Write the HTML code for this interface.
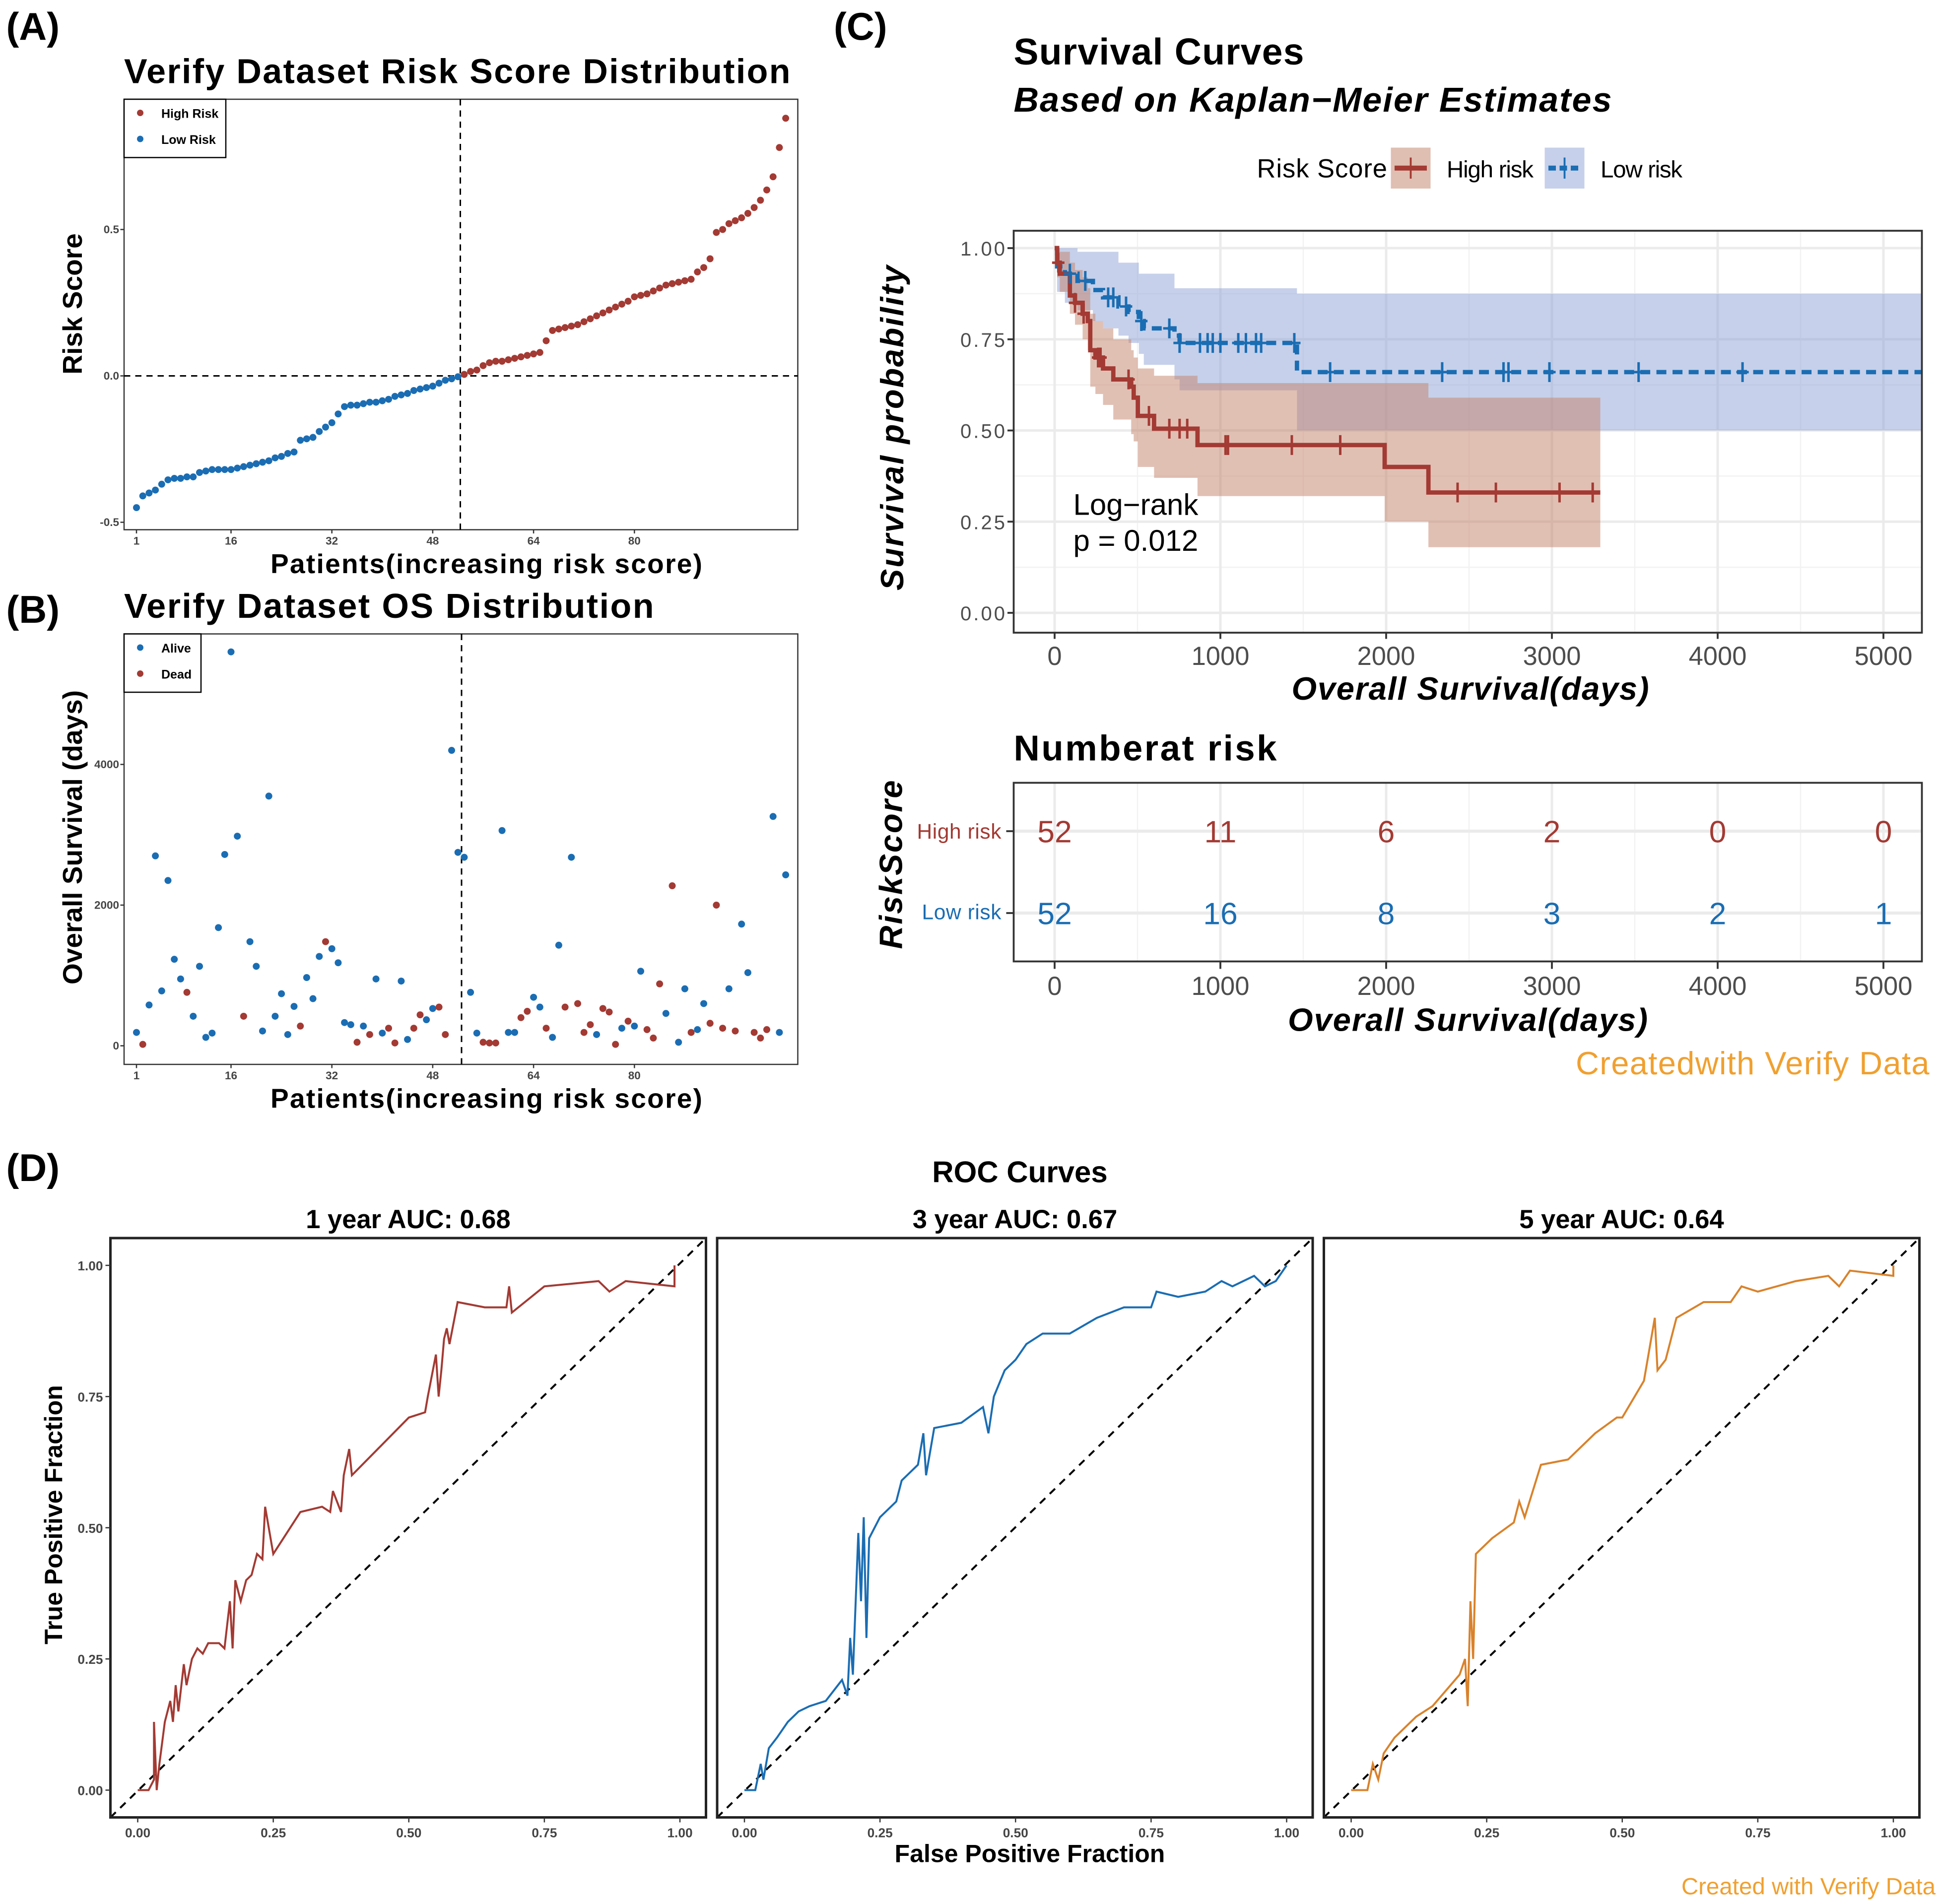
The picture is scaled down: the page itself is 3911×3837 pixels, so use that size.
<!DOCTYPE html>
<html><head><meta charset="utf-8"><style>html,body{margin:0;padding:0;background:#fff}svg{display:block}text{font-family:"Liberation Sans",sans-serif}</style></head>
<body>
<svg id="fig" xmlns="http://www.w3.org/2000/svg" width="3911" height="3837" viewBox="0 0 1564.4 1534.8">
<rect width="1564.4" height="1534.8" fill="#fff"/>
<g id="gA"></g>
<g id="gB"></g>
<g id="gC"></g>
<g id="gT"></g>
<g id="gD"></g>
</svg>
<script>
const riskScores=[-0.45,-0.41,-0.40,-0.39,-0.37,-0.355,-0.35,-0.35,-0.345,-0.345,-0.33,-0.325,-0.32,-0.32,-0.32,-0.32,-0.315,-0.31,-0.305,-0.30,-0.295,-0.29,-0.28,-0.275,-0.265,-0.26,-0.22,-0.215,-0.21,-0.19,-0.175,-0.16,-0.13,-0.105,-0.10,-0.10,-0.095,-0.09,-0.09,-0.085,-0.08,-0.07,-0.065,-0.06,-0.05,-0.045,-0.04,-0.035,-0.025,-0.015,-0.01,-0.003,
0.005,0.015,0.02,0.035,0.045,0.05,0.05,0.055,0.06,0.065,0.07,0.075,0.08,0.12,0.155,0.16,0.165,0.17,0.175,0.185,0.195,0.205,0.215,0.225,0.235,0.245,0.255,0.27,0.275,0.28,0.29,0.30,0.31,0.315,0.32,0.325,0.33,0.355,0.37,0.40,0.49,0.50,0.52,0.53,0.54,0.555,0.575,0.60,0.635,0.68,0.78,0.88];
const osDays=[190,20,580,2700,780,2350,1230,950,760,420,1130,120,180,1680,2720,5600,2980,420,1480,1130,210,3550,420,740,160,560,280,970,670,1270,1480,1380,1180,330,300,50,280,160,950,180,250,40,920,90,250,440,370,530,550,160,4200,2750,2680,760,180,50,40,40,3060,190,190,400,490,690,550,250,120,1430,550,2680,600,190,300,160,530,480,20,250,350,280,1060,230,110,880,460,2275,50,810,190,230,600,320,2000,250,810,210,1730,1040,190,110,230,3260,190,2430];
const osStatus=["A","D","A","A","A","A","A","A","D","A",
"A","A","A","A","A","A","A","D","A","A",
"A","A","A","A","A","A","D","A","A","A",
"D","A","A","A","A","D",
"A","D","A","A","D","D","A","A","D","D",
"A","A","D","D","A","A","A","A","A","D",
"D","D","A","A","A","D","D","A","A","D",
"A","A","D","A","D","D","D","A","D","D",
"D","A","D","A","A","D","D","D","A","D",
"A","A","D","A","A","D","D","D","A","D",
"A","A","D","D","D","A","A","A"];
const riskTicks=[1,16,32,48,64,80];
const rsTicks=[-0.5,0,0.5];
const osTicks=[0,2000,4000];
const hiTimes=[0,15,31,92,123,169,200,215,246,292,354,462,477,502,600,862,1991,2255];
const hiSurv=[1,0.96,0.93,0.87,0.85,0.82,0.80,0.72,0.70,0.67,0.64,0.62,0.59,0.54,0.505,0.46,0.40,0.33];
const hiUpper=[1,1,0.99,0.96,0.94,0.92,0.89,0.82,0.80,0.78,0.75,0.72,0.70,0.67,0.65,0.63,0.63,0.59];
const hiLower=[1,0.92,0.88,0.82,0.79,0.75,0.72,0.62,0.60,0.57,0.53,0.49,0.47,0.40,0.37,0.32,0.25,0.18];
const hiEnd=3292;
const hiCensor=[22,123,175,262,277,446,569,692,754,800,1031,1046,1431,1723,2431,2662,3046,3246];
const loTimes=[0,15,62,138,231,292,385,446,508,538,723,754,1462];
const loSurv=[1,0.95,0.93,0.91,0.885,0.865,0.84,0.825,0.80,0.78,0.76,0.74,0.66];
const loUpper=[1,1,1,0.99,0.99,0.99,0.96,0.96,0.93,0.93,0.89,0.89,0.875];
const loLower=[1,0.88,0.85,0.83,0.80,0.78,0.76,0.74,0.71,0.68,0.64,0.61,0.50];
const loEnd=5230;
const loCensor=[92,185,323,354,431,523,692,754,877,923,954,1000,1108,1154,1215,1246,1446,1662,2338,2708,2738,2985,3523,4150];
const kmXTicks=[0,1000,2000,3000,4000,5000];
const kmYTicks=[0,0.25,0.5,0.75,1];
const nriskHigh=[52,11,6,2,0,0];
const nriskLow=[52,16,8,3,2,1];
const rocTitles=["1 year AUC: 0.68","3 year AUC: 0.67","5 year AUC: 0.64"];
const roc1F=[0,0.02,0.03,0.03,0.035,0.04,0.05,0.06,0.065,0.07,0.075,0.085,0.09,0.1,0.11,0.12,0.13,0.15,0.16,0.17,0.175,0.18,0.19,0.2,0.21,0.22,0.23,0.235,0.25,0.3,0.34,0.355,0.36,0.375,0.38,0.39,0.395,0.5,0.53,0.535,0.55,0.555,0.56,0.565,0.57,0.575,0.59,0.64,0.68,0.685,0.69,0.75,0.85,0.87,0.9,0.99,0.99];
const roc1T=[0,0,0.02,0.13,0,0.05,0.13,0.17,0.13,0.2,0.15,0.24,0.2,0.25,0.27,0.26,0.28,0.28,0.27,0.36,0.27,0.4,0.36,0.4,0.41,0.45,0.44,0.54,0.45,0.53,0.54,0.53,0.57,0.53,0.6,0.65,0.6,0.71,0.72,0.75,0.83,0.75,0.8,0.86,0.88,0.85,0.93,0.92,0.92,0.96,0.91,0.96,0.97,0.95,0.97,0.96,1];
const roc2F=[0,0.02,0.03,0.035,0.045,0.06,0.08,0.1,0.12,0.15,0.18,0.19,0.195,0.2,0.21,0.215,0.22,0.225,0.23,0.25,0.28,0.29,0.3,0.32,0.33,0.335,0.35,0.4,0.44,0.45,0.46,0.48,0.5,0.52,0.55,0.6,0.65,0.7,0.75,0.76,0.8,0.85,0.88,0.9,0.94,0.96,0.98,1];
const roc2T=[0,0,0.05,0.02,0.08,0.1,0.13,0.15,0.16,0.17,0.21,0.18,0.29,0.22,0.49,0.36,0.52,0.29,0.48,0.52,0.55,0.59,0.6,0.62,0.68,0.6,0.69,0.7,0.73,0.68,0.75,0.8,0.82,0.85,0.87,0.87,0.9,0.92,0.92,0.95,0.94,0.95,0.97,0.96,0.98,0.96,0.97,1];
const roc3F=[0,0.03,0.04,0.05,0.06,0.08,0.1,0.12,0.15,0.2,0.21,0.215,0.22,0.225,0.23,0.26,0.3,0.31,0.32,0.35,0.4,0.45,0.49,0.5,0.54,0.56,0.565,0.58,0.6,0.65,0.7,0.72,0.75,0.82,0.88,0.9,0.92,1,1];
const roc3T=[0,0,0.05,0.02,0.07,0.1,0.12,0.14,0.16,0.22,0.25,0.16,0.36,0.25,0.45,0.48,0.51,0.55,0.52,0.62,0.63,0.68,0.71,0.71,0.78,0.9,0.8,0.82,0.9,0.93,0.93,0.96,0.95,0.97,0.98,0.96,0.99,0.98,1];

const NS="http://www.w3.org/2000/svg";
function el(tag,attrs,parent,txt){const e=document.createElementNS(NS,tag);for(const k in attrs)e.setAttribute(k,attrs[k]);if(txt!==undefined)e.textContent=txt;parent.appendChild(e);return e;}
const RED="#a33a33",BLUE="#1a6db3",ORANGE="#d9822b";
const fig=document.getElementById('fig');

[["(A)",5,32],["(B)",5,502],["(C)",672,32],["(D)",5,952]].forEach(l=>{const t=el('text',{x:l[1],y:l[2],'font-size':31,'font-weight':'bold'},fig,l[0]);

});

const px=p=>110+(p-1)*5.08;
function scatterFrame(g,top,bot,title,titleW,yl,ylY,ys,yticks,fmt){
  const b=el('rect',{x:100,y:top,width:543,height:bot-top,fill:'none',stroke:'#333','stroke-width':1},g);
  
  
  const t=el('text',{x:100,y:top-13,'font-size':28,'font-weight':'bold',textLength:titleW},g,title);
  
  
  const y=el('text',{transform:`translate(66,${ylY}) rotate(-90)`,'text-anchor':'middle','font-size':22,'font-weight':'bold'},g,yl);
  
  
  const x=el('text',{x:392,y:bot+35,'text-anchor':'middle','font-size':22,'font-weight':'bold',textLength:348},g,'Patients(increasing risk score)');
  
  
  riskTicks.forEach(v=>{el('line',{x1:px(v),x2:px(v),y1:bot,y2:bot+3,stroke:'#333'},g);
    const tl=el('text',{x:px(v),y:bot+12,'text-anchor':'middle','font-size':9,'font-weight':'bold',fill:'#444'},g,String(v));
    
    });
  yticks.forEach(v=>{el('line',{x1:97,x2:100,y1:ys(v),y2:ys(v),stroke:'#333'},g);
    const tl=el('text',{x:96,y:ys(v)+3,'text-anchor':'end','font-size':9,'font-weight':'bold',fill:'#444'},g,fmt(v));
    
    });
}
function legendBox(g,x,y,w,items){
  const r=el('rect',{x:x,y:y,width:w,height:47,fill:'#fff',stroke:'#000','stroke-width':1},g);
  
  
  items.forEach((it,i)=>{el('circle',{cx:x+13,cy:y+11+i*21,r:2.6,fill:it[1]},g);
    const t=el('text',{x:x+30,y:y+15+i*21,'font-size':10,'font-weight':'bold'},g,it[0]);
    
    });
}
(function(){
  const g=document.getElementById('gA');
  const ys=v=>303-v*236;
  scatterFrame(g,80,427,'Verify Dataset Risk Score Distribution',537,'Risk Score',245,ys,rsTicks,v=>v.toFixed(1));
  el('line',{x1:100,x2:643,y1:ys(0),y2:ys(0),stroke:'#000','stroke-dasharray':'5,4','stroke-width':1.2},g);
  el('line',{x1:371,x2:371,y1:80,y2:427,stroke:'#000','stroke-dasharray':'5,4','stroke-width':1.2},g);
  riskScores.forEach((v,i)=>{const c=el('circle',{cx:px(i+1),cy:ys(v),r:2.8,fill:i<52?BLUE:RED},g);
    
    });
  legendBox(g,100,80,82,[['High Risk',RED],['Low Risk',BLUE]]);
})();
(function(){
  const g=document.getElementById('gB');
  const ys=v=>843-v*0.0567;
  scatterFrame(g,511,858,'Verify Dataset OS Distribution',427,'Overall Survival (days)',675,ys,osTicks,v=>String(v));
  el('line',{x1:372,x2:372,y1:511,y2:858,stroke:'#000','stroke-dasharray':'5,4','stroke-width':1.2},g);
  const n=osDays.length;
  osDays.forEach((v,i)=>{const p=1+i*(103/(n-1));const c=el('circle',{cx:px(p),cy:ys(v),r:2.8,fill:osStatus[i]==='D'?RED:BLUE},g);
    
    });
  legendBox(g,100,511,62,[['Alive',BLUE],['Dead',RED]]);
})();

const kx=d=>850+d*0.1336, ky=s=>494-s*294;
(function(){
  const g=document.getElementById('gC');
  el('text',{x:817,y:52,'font-size':30,'font-weight':'bold',textLength:234},g,'Survival Curves');
  el('text',{x:817,y:90,'font-size':28,'font-weight':'bold','font-style':'italic',textLength:482},g,'Based on Kaplan\u2212Meier Estimates');
  el('text',{x:1013,y:143,'font-size':21,textLength:105},g,'Risk Score');
  const k1=el('rect',{x:1121,y:119,width:32,height:33,fill:'#dfbfb2'},g);
  
  
  el('line',{x1:1124,x2:1150,y1:135.5,y2:135.5,stroke:RED,'stroke-width':4},g);
  el('line',{x1:1137,x2:1137,y1:127,y2:144,stroke:RED,'stroke-width':1.5},g);
  el('text',{x:1166,y:143,'font-size':19,textLength:70},g,'High risk');
  const k2=el('rect',{x:1245,y:119,width:32,height:33,fill:'#c6d0ea'},g);
  
  
  el('line',{x1:1248,x2:1274,y1:135.5,y2:135.5,stroke:BLUE,'stroke-width':4,'stroke-dasharray':'6,3'},g);
  el('line',{x1:1261,x2:1261,y1:127,y2:144,stroke:BLUE,'stroke-width':1.5},g);
  el('text',{x:1290,y:143,'font-size':19,textLength:66},g,'Low risk');
  [500,1500,2500,3500,4500].forEach(d=>el('line',{x1:kx(d),x2:kx(d),y1:186,y2:510,stroke:'#f2f2f2','stroke-width':1},g));
  [0.125,0.375,0.625,0.875].forEach(s=>el('line',{x1:817,x2:1549,y1:ky(s),y2:ky(s),stroke:'#f2f2f2','stroke-width':1},g));
  kmXTicks.forEach(d=>el('line',{x1:kx(d),x2:kx(d),y1:186,y2:510,stroke:'#ebebeb','stroke-width':2},g));
  kmYTicks.forEach(s=>el('line',{x1:817,x2:1549,y1:ky(s),y2:ky(s),stroke:'#ebebeb','stroke-width':2},g));
  function band(times,lo,up,end,fill,name){
    let top=[],bot=[];
    times.forEach((t,i)=>{const t2=i<times.length-1?times[i+1]:end;
      top.push([kx(t),ky(up[i])],[kx(t2),ky(up[i])]);bot.push([kx(t),ky(lo[i])],[kx(t2),ky(lo[i])]);});
    const pts=top.concat(bot.reverse()).map(p=>p.join(',')).join(' ');
    const pg=el('polygon',{points:pts,fill:fill,'fill-opacity':0.5},g);
    
    
  }
  function step(times,s,end,col,dash,name){
    let d=`M${kx(times[0])},${ky(s[0])}`;
    times.forEach((t,i)=>{if(i>0)d+=`L${kx(t)},${ky(s[i-1])}L${kx(t)},${ky(s[i])}`;});
    d+=`L${kx(end)},${ky(s[s.length-1])}`;
    const p=el('path',{d:d,fill:'none',stroke:col,'stroke-width':3.5,'stroke-dasharray':dash},g);
    
    
  }
  function sAt(times,s,t){let v=s[0];times.forEach((tt,i)=>{if(tt<=t)v=s[i];});return v;}
  function censor(list,times,s,col,name){list.forEach(t=>{const y=ky(sAt(times,s,t));
    const c=el('path',{d:`M${kx(t)},${y-8}V${y+8}M${kx(t)-5},${y}H${kx(t)+5}`,stroke:col,'stroke-width':2},g);
    
    });}
  band(loTimes,loLower,loUpper,loEnd,'#8ea2d6','low-risk-ci');
  band(hiTimes,hiLower,hiUpper,hiEnd,'#c4826a','high-risk-ci');
  step(loTimes,loSurv,loEnd,BLUE,'8,5','low-risk-curve');
  step(hiTimes,hiSurv,hiEnd,RED,'none','high-risk-curve');
  censor(loCensor,loTimes,loSurv,BLUE,'low-risk-censor');
  censor(hiCensor,hiTimes,hiSurv,RED,'high-risk-censor');
  const fr=el('rect',{x:817,y:186,width:732,height:324,fill:'none',stroke:'#333','stroke-width':1.5},g);
  
  
  kmYTicks.forEach(s=>{el('line',{x1:812,x2:817,y1:ky(s),y2:ky(s),stroke:'#333','stroke-width':1.5},g);
    const t=el('text',{x:810,y:ky(s)+6,'text-anchor':'end','font-size':16,fill:'#4d4d4d',textLength:36},g,s.toFixed(2));
    
    });
  kmXTicks.forEach(d=>{el('line',{x1:kx(d),x2:kx(d),y1:510,y2:515,stroke:'#333','stroke-width':1.5},g);
    const t=el('text',{x:kx(d),y:536,'text-anchor':'middle','font-size':21,fill:'#4d4d4d'},g,String(d));
    
    });
  el('text',{x:1185,y:564,'text-anchor':'middle','font-size':26,'font-weight':'bold','font-style':'italic',textLength:288},g,'Overall Survival(days)');
  el('text',{transform:'translate(728,345) rotate(-90)','text-anchor':'middle','font-size':26,'font-weight':'bold','font-style':'italic',textLength:262},g,'Survival  probability');
  el('text',{x:865,y:415,'font-size':24},g,'Log\u2212rank');
  el('text',{x:865,y:444,'font-size':24},g,'p = 0.012');
})();
(function(){
  const g=document.getElementById('gT');
  el('text',{x:817,y:613,'font-size':29,'font-weight':'bold',textLength:212},g,'Numberat risk');
  [500,1500,2500,3500,4500].forEach(d=>el('line',{x1:kx(d),x2:kx(d),y1:631,y2:775,stroke:'#f2f2f2'},g));
  kmXTicks.forEach(d=>el('line',{x1:kx(d),x2:kx(d),y1:631,y2:775,stroke:'#ebebeb','stroke-width':2},g));
  [670,736].forEach(y=>el('line',{x1:817,x2:1549,y1:y,y2:y,stroke:'#ebebeb','stroke-width':2.5},g));
  const fr=el('rect',{x:817,y:631,width:732,height:144,fill:'none',stroke:'#333','stroke-width':1.5},g);
  
  
  el('text',{x:807,y:676,'text-anchor':'end','font-size':17,fill:RED,textLength:68},g,'High risk');
  el('text',{x:807,y:741,'text-anchor':'end','font-size':17,fill:BLUE,textLength:64},g,'Low risk');
  el('line',{x1:811,x2:817,y1:670,y2:670,stroke:'#333','stroke-width':1.5},g);
  el('line',{x1:811,x2:817,y1:736,y2:736,stroke:'#333','stroke-width':1.5},g);
  kmXTicks.forEach((d,i)=>{
    const a=el('text',{x:kx(d),y:679,'text-anchor':'middle','font-size':25,fill:RED},g,String(nriskHigh[i]));
    
    
    const b=el('text',{x:kx(d),y:745,'text-anchor':'middle','font-size':25,fill:BLUE},g,String(nriskLow[i]));
    
    
    el('line',{x1:kx(d),x2:kx(d),y1:775,y2:781,stroke:'#333','stroke-width':1.5},g);
    const t=el('text',{x:kx(d),y:802,'text-anchor':'middle','font-size':21,fill:'#4d4d4d'},g,String(d));
    
    });
  el('text',{x:1183,y:831,'text-anchor':'middle','font-size':26,'font-weight':'bold','font-style':'italic',textLength:290},g,'Overall Survival(days)');
  el('text',{transform:'translate(727,697) rotate(-90)','text-anchor':'middle','font-size':26,'font-weight':'bold','font-style':'italic',textLength:136},g,'RiskScore');
  el('text',{x:1555,y:866,'text-anchor':'end','font-size':26,fill:'#f0a030',textLength:285},g,'Createdwith Verify Data');
})();

(function(){
  const g=document.getElementById('gD');
  el('text',{x:822,y:953,'text-anchor':'middle','font-size':24,'font-weight':'bold'},g,'ROC Curves');
  const lefts=[89,578,1067],cols=[RED,BLUE,ORANGE];
  const dataF=[roc1F,roc2F,roc3F],dataT=[roc1T,roc2T,roc3T];
  const xt=[0,0.25,0.5,0.75,1];
  lefts.forEach((L,k)=>{
    const sx=v=>L+22+v*437, sy=v=>1443-v*423;
    el('text',{x:L+240,y:990,'text-anchor':'middle','font-size':21,'font-weight':'bold'},g,rocTitles[k]);
    el('line',{x1:L,y1:1465,x2:L+480,y2:998,stroke:'#000','stroke-width':1.6,'stroke-dasharray':'6,5'},g);
    const pts=dataF[k].map((f,i)=>sx(f)+','+sy(dataT[k][i])).join(' ');
    const pl=el('polyline',{points:pts,fill:'none',stroke:cols[k],'stroke-width':1.6},g);
    
    
    const fr=el('rect',{x:L,y:998,width:480,height:467,fill:'none',stroke:'#222','stroke-width':2},g);
    
    
    xt.forEach(v=>{el('line',{x1:sx(v),x2:sx(v),y1:1465,y2:1469,stroke:'#333'},g);
      const t=el('text',{x:sx(v),y:1481,'text-anchor':'middle','font-size':10.5,'font-weight':'bold',fill:'#444'},g,v.toFixed(2));
      
      });
    if(k===0)xt.forEach(v=>{el('line',{x1:L-4,x2:L,y1:sy(v),y2:sy(v),stroke:'#333'},g);
      const t=el('text',{x:L-6,y:sy(v)+4,'text-anchor':'end','font-size':10.5,'font-weight':'bold',fill:'#444'},g,v.toFixed(2));
      
      });
  });
  el('text',{x:830,y:1501,'text-anchor':'middle','font-size':20,'font-weight':'bold'},g,'False Positive Fraction');
  el('text',{transform:'translate(50,1221) rotate(-90)','text-anchor':'middle','font-size':20,'font-weight':'bold'},g,'True Positive Fraction');
  el('text',{x:1560,y:1527,'text-anchor':'end','font-size':19,fill:'#f0a030'},g,'Created with Verify Data');
})();
</script>
</body></html>
